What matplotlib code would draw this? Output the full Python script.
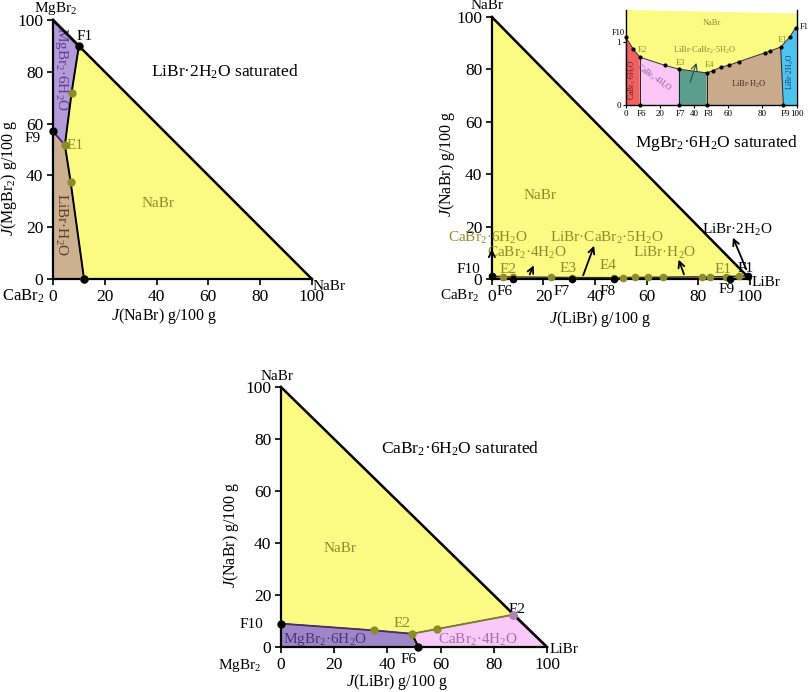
import matplotlib.pyplot as plt
from matplotlib.patches import Polygon

plt.rcParams['font.family'] = ['Liberation Serif', 'DejaVu Serif']
plt.rcParams['mathtext.fontset'] = 'custom'
plt.rcParams['mathtext.rm'] = 'Liberation Serif'
plt.rcParams['mathtext.it'] = 'Liberation Serif:italic'
plt.rcParams['font.size'] = 11

OLIVE = '#8c8c2a'
YELLOW = '#fbfb84'

# ---- panel 1: LiBr.2H2O saturated, x = J(NaBr), y = J(MgBr2)
p1_upper_x = [10, 7.2, 4.6]        # F1 -> E1
p1_upper_y = [90, 72, 51.7]
p1_lower_x = [4.6, 6.8, 12]        # E1 -> NaBr/LiBr.H2O on axis
p1_lower_y = [51.7, 37.6, 0]
p1_F9 = (0, 57)

# ---- panel 2: MgBr2.6H2O saturated, x = J(LiBr), y = J(NaBr)
p2_x = [0, 4.4, 8.3, 22.9, 31, 47.4, 50.9, 55.6, 60.6, 66.4, 81.4, 84.6, 90.6, 95.9, 99.4]
p2_y = [1.08, 0.89, 0.76, 0.63, 0.57, 0.51, 0.545, 0.60, 0.635, 0.69, 0.83, 0.86, 0.92, 1.08, 1.23]
p2_E = {'E2': 2, 'E3': 4, 'E4': 5, 'E1': 12}
p2_F_bottom = {'F6': 8.3, 'F7': 31, 'F8': 47.4, 'F9': 92.2}
p2_colors = ['#f06262', '#f9c6f6', '#5c9e8e', '#c9aa8a', '#4cc4ee']
p2_regions = ['CaBr$_2$·6H$_2$O', 'CaBr$_2$·4H$_2$O', 'LiBr·CaBr$_2$·5H$_2$O',
              'LiBr·H$_2$O', 'LiBr·2H$_2$O']

# ---- panel 3: CaBr2.6H2O saturated, x = J(LiBr), y = J(NaBr)
p3_x = [0, 35, 49.2, 58.6, 87.2]
p3_y = [9.0, 6.4, 5.1, 6.9, 12.4]
p3_F6 = (51.7, 0)


def frame(ax, xlabel, ylabel, xl_pos, yl_pos):
    ax.set_xlim(0, 100)
    ax.set_ylim(0, 100)
    ax.set_xticks(range(0, 101, 20))
    ax.set_yticks(range(0, 101, 20))
    for s in ['top', 'right']:
        ax.spines[s].set_visible(False)
    ax.spines['left'].set_linewidth(1.6)
    ax.spines['bottom'].set_linewidth(1.6)
    ax.tick_params(direction='out', length=4, width=1.2, labelsize=12.5, pad=3)
    ax.set_xlabel(xlabel, fontsize=11.5)
    ax.set_ylabel(ylabel, fontsize=11.5)
    ax.xaxis.set_label_coords(*xl_pos)
    ax.yaxis.set_label_coords(*yl_pos)
    ax.plot([0, 100], [100, 0], color='black', lw=1.8, clip_on=False, zorder=4)


def poly(ax, pts, fc, ec='none', lw=0.8, z=1):
    ax.add_patch(Polygon(pts, closed=True, facecolor=fc, edgecolor=ec, lw=lw,
                         clip_on=False, zorder=z))


fig = plt.figure(figsize=(8.09, 6.92), dpi=100)

# ================= panel 1 =================
ax1 = fig.add_axes([0.0655, 0.5968, 0.320, 0.3743])
frame(ax1, '$\\mathit{J}$(NaBr) g/100 g', '$\\mathit{J}$(MgBr$_2$) g/100 g',
      (0.43, -0.104), (-0.131, 0.39))
up = list(zip(p1_upper_x, p1_upper_y))
lo = list(zip(p1_lower_x, p1_lower_y))
poly(ax1, [(0, 100)] + up + [p1_F9], '#b29bd8', '#6a4c9c')
poly(ax1, [p1_F9] + lo + [(0, 0)], '#cdb08f', '#6b4a32')
poly(ax1, up + lo[1:] + [(100, 0)], YELLOW, OLIVE)
ax1.plot(p1_upper_x + p1_lower_x[1:], p1_upper_y + p1_lower_y[1:], color='black', lw=1.4,
         clip_on=False, zorder=3)
ax1.plot([p1_F9[0], p1_upper_x[-1]], [p1_F9[1], p1_upper_y[-1]], color='#4a2e78', lw=1.4,
         clip_on=False, zorder=3)
ax1.plot([0, 10], [100, 90], color='black', lw=1.8, zorder=4, clip_on=False)
ax1.plot(p1_upper_x[1:] + p1_lower_x[1:], p1_upper_y[1:] + p1_lower_y[1:], 'o', color=OLIVE,
         ms=5, clip_on=False, zorder=5)
ax1.plot([p1_upper_x[0], p1_F9[0], p1_lower_x[-1]], [p1_upper_y[0], p1_F9[1], p1_lower_y[-1]],
         'o', color='black', ms=5, clip_on=False, zorder=6)
ax1.text(3.2, 81, 'MgBr$_2$·6H$_2$O', rotation=-90, ha='center', va='center', color='#5e3f92')
ax1.text(3.3, 21, 'LiBr·H$_2$O', rotation=-90, ha='center', va='center', color='#5a3c28')
ax1.text(5.4, 51.7, 'E1', ha='left', va='center', color=OLIVE)
ax1.text(12.4, 93.5, 'F1', ha='center', va='center')
ax1.text(-7.7, 54.4, 'F9', ha='center', va='center')
ax1.text(40.5, 29.3, 'NaBr', ha='center', va='center', color=OLIVE)
ax1.text(66.4, 80, 'LiBr·2H$_2$O saturated', ha='center', va='center', fontsize=12.5)
ax1.text(1, 104.5, 'MgBr$_2$', ha='center', va='center')
ax1.text(-11.5, -6.6, 'CaBr$_2$', ha='center', va='center', fontsize=12)
ax1.text(100.4, -3, 'NaBr', ha='left', va='center')


def p2_regions_draw(ax, lw_line):
    bounds = [0] + [p2_F_bottom[k] for k in ['F6', 'F7', 'F8', 'F9']] + [100]
    cuts = [0, p2_E['E2'], p2_E['E3'], p2_E['E4'], p2_E['E1'], len(p2_x) - 1]
    for i, c in enumerate(p2_colors):
        seg = list(zip(p2_x[cuts[i]:cuts[i + 1] + 1], p2_y[cuts[i]:cuts[i + 1] + 1]))
        if i == len(p2_colors) - 1:
            seg = seg + [(100, p2_y[-1])]
        pts = [(bounds[i], 0)] + seg + [(bounds[i + 1], 0)]
        poly(ax, pts, c, 'none', z=2)
    # separating lines between solid regions
    for k, e in zip(['F6', 'F7', 'F8', 'F9'], ['E2', 'E3', 'E4', 'E1']):
        ax.plot([p2_F_bottom[k], p2_x[p2_E[e]]], [0, p2_y[p2_E[e]]], color='#222222',
                lw=lw_line, clip_on=False, zorder=3)
    ax.plot(p2_x, p2_y, color='#333333', lw=lw_line, clip_on=False, zorder=3)


# ================= panel 2 =================
ax2 = fig.add_axes([0.608, 0.5968, 0.319, 0.3786])
frame(ax2, '$\\mathit{J}$(LiBr) g/100 g', '$\\mathit{J}$(NaBr) g/100 g',
      (0.42, -0.115), (-0.136, 0.44))
poly(ax2, [(0, 100)] + list(zip(p2_x, p2_y)) + [(100, 0)], YELLOW, OLIVE, z=1)
p2_regions_draw(ax2, 1.0)
ax2.plot(p2_x[1:-1], p2_y[1:-1], 'o', color=OLIVE, ms=4.5, clip_on=False, zorder=5)
ax2.plot([p2_x[0], p2_x[-1]], [p2_y[0], p2_y[-1]], 'o', color='black', ms=4.5, clip_on=False,
         zorder=6)
ax2.plot(list(p2_F_bottom.values()), [0] * 4, 'o', color='black', ms=4.5, clip_on=False, zorder=6)
ax2.text(-1.5, 15.6, 'CaBr$_2$·6H$_2$O', ha='center', va='center', color=OLIVE)
ax2.text(13.5, 10, 'CaBr$_2$·4H$_2$O', ha='center', va='center', color=OLIVE)
ax2.text(44.6, 15.6, 'LiBr·CaBr$_2$·5H$_2$O', ha='center', va='center', color=OLIVE)
ax2.text(67, 10, 'LiBr·H$_2$O', ha='center', va='center', color=OLIVE)
ax2.text(95, 18.7, 'LiBr·2H$_2$O', ha='center', va='center')
arrows2 = [((0, 1), (0, 12.5)), ((14.2, 0.8), (16.7, 6.2)), ((35, 0.4), (40, 13.7)),
           ((74.8, 0.8), (72, 8.4)), ((99, 2.7), (93, 16.8))]
for a, b in arrows2:
    ax2.annotate('', xy=b, xytext=a, arrowprops=dict(arrowstyle='->', color='black', lw=1.3),
                 annotation_clip=False, zorder=7)
for lab, (x, y) in {'E2': (6.2, 3.6), 'E3': (29.5, 4.2), 'E4': (45, 5.3), 'E1': (89.5, 3.6)}.items():
    ax2.text(x, y, lab, ha='center', va='center', color=OLIVE)
ax2.text(98.5, 4.2, 'F1', ha='center', va='center')
ax2.text(-9, 3.6, 'F10', ha='center', va='center')
for lab, (x, y) in {'F6': (5, -4.8), 'F7': (27, -4.8), 'F8': (45, -4.8), 'F9': (91, -4)}.items():
    ax2.text(x, y, lab, ha='center', va='center')
ax2.text(18.6, 32, 'NaBr', ha='center', va='center', color=OLIVE)
ax2.text(87, 52, 'MgBr$_2$·6H$_2$O saturated', ha='center', va='center', fontsize=12.5)
ax2.text(-2, 104.5, 'NaBr', ha='center', va='center')
ax2.text(-12.4, -6.5, 'CaBr$_2$', ha='center', va='center')
ax2.text(100.5, -1.2, 'LiBr', ha='left', va='center')

# ---- inset of panel 2
axi = fig.add_axes([0.7734, 0.8483, 0.2114, 0.1373])
axi.set_xlim(0, 100)
axi.set_ylim(0, 1.51)
axi.set_xticks(range(0, 101, 20))
axi.set_yticks([0, 1])
axi.spines['top'].set_visible(False)
axi.patch.set_alpha(0)
for s in ['left', 'bottom', 'right']:
    axi.spines[s].set_linewidth(1.0)
axi.tick_params(direction='out', length=2, width=0.8, labelsize=6.5, pad=1.5)
axi.tick_params(axis='y', right=False)
poly(axi, [(0, 1.51)] + list(zip(p2_x, p2_y)) + [(100, 1.25), (100, 1.455)], YELLOW, 'none', z=1)
p2_regions_draw(axi, 0.7)
axi.plot(p2_x, p2_y, 'o', color='black', ms=2, clip_on=False, zorder=5)
axi.plot(list(p2_F_bottom.values()), [0] * 4, 'o', color='black', ms=2, clip_on=False, zorder=6)
axi.text(50.3, 1.31, 'NaBr', ha='center', va='center', color=OLIVE, fontsize=6)
axi.text(46.4, 0.86, 'LiBr·CaBr$_2$·5H$_2$O', ha='center', va='center', color=OLIVE, fontsize=6)
axi.annotate('', xy=(41.9, 0.71), xytext=(37.2, 0.32),
             arrowprops=dict(arrowstyle='->', color='#1e4e46', lw=0.8), zorder=7)
for lab, (x, y) in {'E2': (9.7, 0.88), 'E3': (31.8, 0.66), 'E4': (48.7, 0.64), 'E1': (91.8, 1.03)}.items():
    axi.text(x, y, lab, ha='center', va='center', color=OLIVE, fontsize=6)
axi.text(-4.3, 1.14, 'F10', ha='center', va='center', fontsize=6)
axi.text(104.3, 1.24, 'F1', ha='center', va='center', fontsize=6)
for lab, x in p2_F_bottom.items():
    axi.text(x + 1, -0.14, lab, ha='center', va='center', fontsize=6.5)
axi.text(4.1, 0.40, p2_regions[0], rotation=90, ha='center', va='center', fontsize=5.5,
         color='#6a1a1a')
axi.text(16.5, 0.42, p2_regions[1], rotation=-35, ha='center', va='center', fontsize=5.5,
         color='#8a5aa0')
axi.text(71.7, 0.32, p2_regions[3], ha='center', va='center', fontsize=6, color='#4a3020')
axi.text(96.1, 0.53, p2_regions[4], rotation=90, ha='center', va='center', fontsize=5.5,
         color='#1a3a6a')

# ================= panel 3 =================
ax3 = fig.add_axes([0.3473, 0.065, 0.3288, 0.3757])
frame(ax3, '$\\mathit{J}$(LiBr) g/100 g', '$\\mathit{J}$(NaBr) g/100 g',
      (0.436, -0.097), (-0.150, 0.43))
b3 = list(zip(p3_x, p3_y))
poly(ax3, [(0, 100)] + b3, YELLOW, OLIVE, z=1)
poly(ax3, [(0, 0)] + b3[:3] + [p3_F6], '#9f86c8', '#5e3f92', z=2)
poly(ax3, [p3_F6] + b3[2:] + [(100, 0)], '#f9c9f7', '#8a5aa0', z=2)
ax3.plot(p3_x[:3], p3_y[:3], color='#4a3060', lw=1.3, clip_on=False, zorder=3)
ax3.plot(p3_x[2:], p3_y[2:], color='#7a7a30', lw=1.3, clip_on=False, zorder=3)
ax3.plot([p3_x[-1], 100], [p3_y[-1], 0], color='#7a4a8a', lw=1.6, clip_on=False, zorder=3)
ax3.plot([p3_F6[0], p3_x[2]], [p3_F6[1], p3_y[2]], color='black', lw=1.4, clip_on=False, zorder=3)
ax3.plot(p3_x[1:], p3_y[1:], 'o', color=OLIVE, ms=5, clip_on=False, zorder=5)
ax3.plot(p3_x[-1:], p3_y[-1:], 'o', color='#b080b8', ms=5, clip_on=False, zorder=5)
ax3.plot([p3_x[0], p3_F6[0]], [p3_y[0], p3_F6[1]], 'o', color='black', ms=5, clip_on=False,
         zorder=6)
ax3.text(0.8, 3, 'MgBr$_2$·6H$_2$O', ha='left', va='center', color='#4a3478')
ax3.text(74, 2.8, 'CaBr$_2$·4H$_2$O', ha='center', va='center', color='#a070b0')
ax3.text(45.4, 9.2, 'E2', ha='center', va='center', color=OLIVE)
ax3.text(88.7, 14.3, 'E2', ha='center', va='center')
ax3.text(47.9, -4.9, 'F6', ha='center', va='center')
ax3.text(-11, 8.6, 'F10', ha='center', va='center')
ax3.text(22.2, 38, 'NaBr', ha='center', va='center', color=OLIVE)
ax3.text(67.4, 76.4, 'CaBr$_2$·6H$_2$O saturated', ha='center', va='center', fontsize=12.5)
ax3.text(-1.5, 104, 'NaBr', ha='center', va='center')
ax3.text(101, -1, 'LiBr', ha='left', va='center')
ax3.text(-15.4, -7.2, 'MgBr$_2$', ha='center', va='center')

fig.savefig('out.png', dpi=100)
